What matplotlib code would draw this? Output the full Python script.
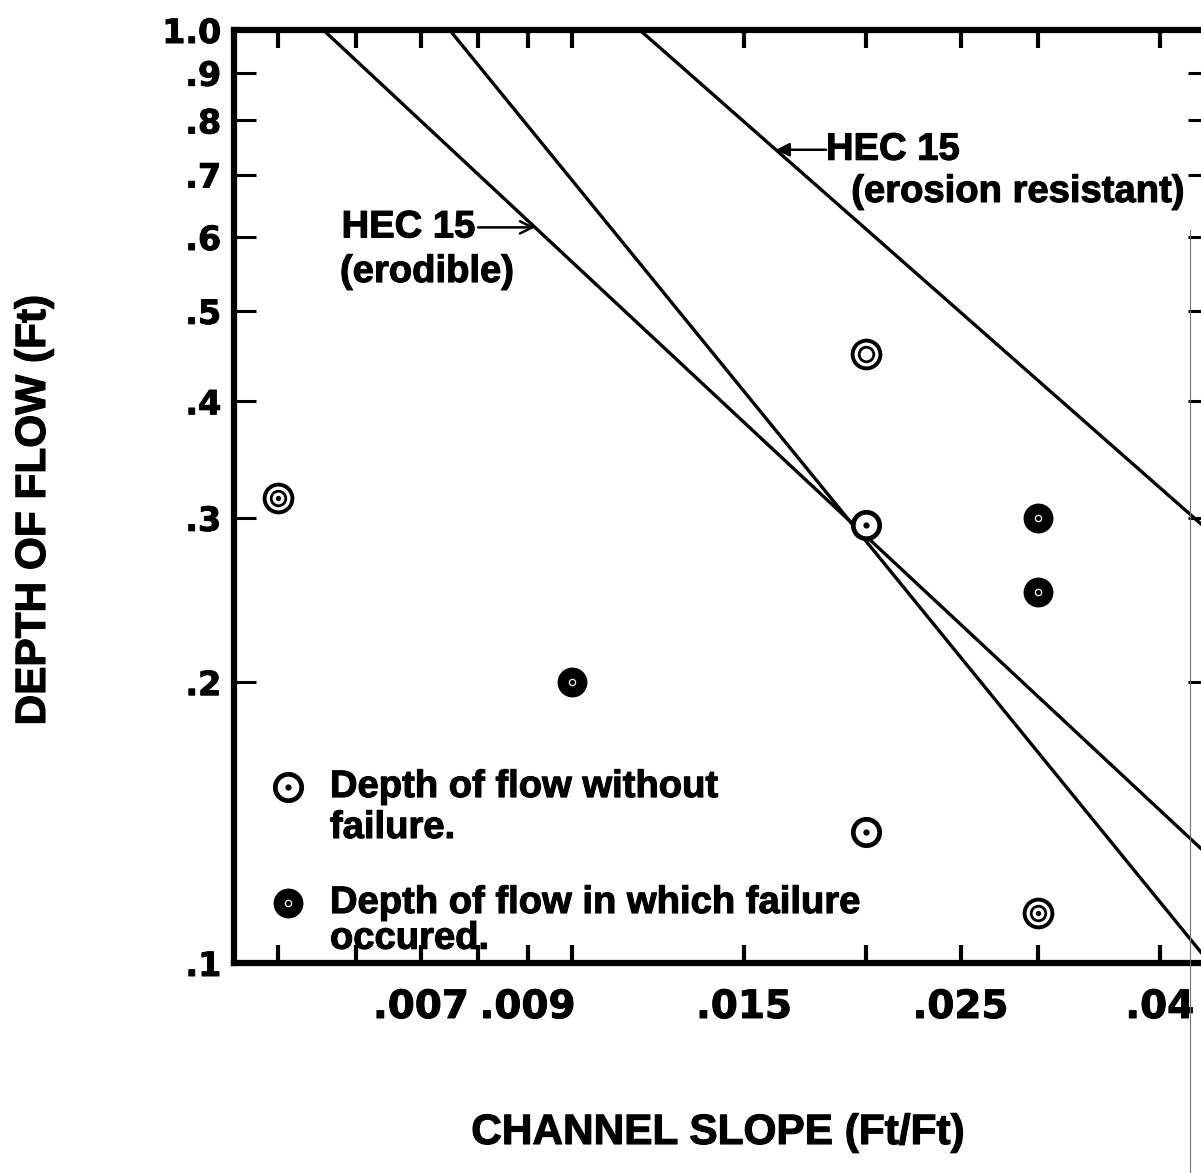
import numpy as np
import matplotlib
matplotlib.use("Agg")
import matplotlib.pyplot as plt
import matplotlib.patheffects as pe
from matplotlib.font_manager import FontProperties
from matplotlib.lines import Line2D

# ---- data -------------------------------------------------------------
# Test runs: channel slope (ft/ft) and depth of flow (ft)
no_failure_slope = [0.005, 0.02, 0.02, 0.02, 0.03]
no_failure_depth = [0.315, 0.45, 0.295, 0.138, 0.113]
no_failure_marks = ["double-dot", "double", "dot", "dot", "double-dot"]

failure_slope = [0.01, 0.03, 0.03]
failure_depth = [0.20, 0.30, 0.25]

# Design lines (end points)
hec_erodible_slope = [0.00556, 0.045]
hec_erodible_depth = [1.0, 0.130]

boundary_slope = [0.00749, 0.045]
boundary_depth = [1.0, 0.10]

hec_resistant_slope = [0.01173, 0.045]
hec_resistant_depth = [1.0, 0.29]

# Axis ticks
x_ticks = [0.005, 0.006, 0.007, 0.008, 0.009, 0.01, 0.015, 0.02, 0.025, 0.03, 0.04]
x_tick_labels = ["", "", ".007", "", ".009", "", ".015", "", ".025", "", ".04"]
y_ticks = [0.1, 0.2, 0.3, 0.4, 0.5, 0.6, 0.7, 0.8, 0.9, 1.0]
y_tick_labels = [".1", ".2", ".3", ".4", ".5", ".6", ".7", ".8", ".9", "1.0"]

# ---- figure -----------------------------------------------------------
W, H = 1201, 1173
fig = plt.figure(figsize=(W / 100, H / 100), dpi=100)
ax = fig.add_axes([233.7 / W, 210 / H, 976 / W, 933 / H])
ax.set_xscale("log")
ax.set_yscale("log")
ax.set_xlim(0.0045, 0.045)
ax.set_ylim(0.1, 1.0)

for s in ax.spines.values():
    s.set_linewidth(4.5)

ax.set_xticks(x_ticks)
ax.set_xticklabels(x_tick_labels)
ax.set_yticks(y_ticks)
ax.set_yticklabels(y_tick_labels)
ax.minorticks_off()

heavy_tick = [pe.withStroke(linewidth=0.7, foreground="black")]
heavy_text = [pe.withStroke(linewidth=0.8, foreground="black")]

for lab in ax.get_xticklabels():
    lab.set_fontproperties(FontProperties(family="DejaVu Sans", weight="bold", size=28))
    lab.set_path_effects(heavy_tick)
for lab in ax.get_yticklabels():
    lab.set_fontproperties(FontProperties(family="DejaVu Sans", weight="bold", size=24))
    lab.set_path_effects(heavy_tick)

ax.tick_params(axis="x", which="major", direction="in", top=True, bottom=True,
               length=13, width=3, pad=18)
ax.tick_params(axis="y", which="major", direction="in", left=True, right=True,
               length=16, width=2.2, pad=9)

# ---- design lines -----------------------------------------------------
line_kw = dict(color="black", lw=2.4, solid_capstyle="butt")
ax.plot(hec_erodible_slope, hec_erodible_depth, **line_kw)
ax.plot(boundary_slope, boundary_depth, **line_kw)
ax.plot(hec_resistant_slope, hec_resistant_depth, **line_kw)


def on_line(xs, ys, x):
    return 10 ** np.interp(np.log10(x), np.log10(xs), np.log10(ys))


# ---- markers ----------------------------------------------------------
def ring_dot(x, y, transform=None):
    kw = dict(clip_on=False, zorder=5, linestyle="none")
    if transform is not None:
        kw["transform"] = transform
    ax.plot([x], [y], marker="o", ms=19, mfc="white", mec="black", mew=3.4, **kw)
    ax.plot([x], [y], marker="o", ms=4.5, mfc="black", mec="black", mew=0, **kw)


def double_ring(x, y, dot=True):
    kw = dict(clip_on=False, zorder=5, linestyle="none")
    ax.plot([x], [y], marker="o", ms=20, mfc="white", mec="black", mew=2.8, **kw)
    ax.plot([x], [y], marker="o", ms=10.5, mfc="white", mec="black", mew=2.0, **kw)
    if dot:
        ax.plot([x], [y], marker="o", ms=3.8, mfc="black", mec="black", mew=0, **kw)


def filled(x, y, transform=None):
    kw = dict(clip_on=False, zorder=5, linestyle="none")
    if transform is not None:
        kw["transform"] = transform
    ax.plot([x], [y], marker="o", ms=20, mfc="black", mec="black", mew=1.5, **kw)
    ax.plot([x], [y], marker="o", ms=4.5, mfc="none", mec="white", mew=0.9, **kw)


for x, y, m in zip(no_failure_slope, no_failure_depth, no_failure_marks):
    if m == "dot":
        ring_dot(x, y)
    else:
        double_ring(x, y, dot=(m == "double-dot"))

for x, y in zip(failure_slope, failure_depth):
    filled(x, y)

# ---- annotations ------------------------------------------------------
txt_font = dict(family="Liberation Sans", weight="bold", size=27.5,
                path_effects=heavy_text)

# HEC 15 (erodible)
tip_x, tail_x = 0.00916, 0.00801
yy = on_line(hec_erodible_slope, hec_erodible_depth, tip_x)
ax.annotate("", xy=(tip_x, yy), xytext=(tail_x, yy),
            arrowprops=dict(arrowstyle="->", lw=1.8, color="black",
                            shrinkA=0, shrinkB=0, mutation_scale=22))
ax.annotate("HEC 15", xy=(tail_x, yy), xytext=(-2, 0), textcoords="offset points",
            ha="right", va="center", **txt_font)
ax.text(0.1089, 0.7406, "(erodible)", transform=ax.transAxes,
        ha="left", va="center", **txt_font)

# HEC 15 (erosion resistant)
tip_x, tail_x = 0.01617, 0.0182
yy = on_line(hec_resistant_slope, hec_resistant_depth, tip_x)
ax.annotate("", xy=(tip_x, yy), xytext=(tail_x, yy),
            arrowprops=dict(arrowstyle="-|>", lw=1.8, color="black",
                            shrinkA=0, shrinkB=0, mutation_scale=20))
ax.annotate("HEC 15", xy=(tail_x, yy), xytext=(0, 0), textcoords="offset points",
            ha="left", va="center", **txt_font)
ax.text(0.9747, 0.8264, "(erosion resistant)", transform=ax.transAxes,
        ha="right", va="center", **txt_font)

# ---- key --------------------------------------------------------------
ring_dot(0.0556, 0.1886, transform=ax.transAxes)
filled(0.0556, 0.0643, transform=ax.transAxes)
ax.text(0.0986, 0.1886, "Depth of flow without", transform=ax.transAxes,
        ha="left", va="center", **txt_font)
ax.text(0.0986, 0.1447, "failure.", transform=ax.transAxes,
        ha="left", va="center", **txt_font)
ax.text(0.0986, 0.0643, "Depth of flow in which failure", transform=ax.transAxes,
        ha="left", va="center", **txt_font)
ax.text(0.0986, 0.0260, "occured.", transform=ax.transAxes,
        ha="left", va="center", **txt_font)

# ---- axis titles ------------------------------------------------------
lab_font = dict(family="Liberation Sans", weight="bold", size=30.5,
                path_effects=heavy_text)
fig.text(718 / W, 1 - 1133 / H, "CHANNEL SLOPE (Ft/Ft)", ha="center", va="center", **lab_font)
fig.text(34 / W, 1 - 510 / H, "DEPTH OF FLOW (Ft)", rotation=90,
         ha="center", va="center", **lab_font)

# faint fold line on the right edge of the sheet
fig.add_artist(Line2D([1190 / W, 1190 / W], [0, 1 - 230 / H], color="0.45", lw=0.8))

fig.savefig("out.png", dpi=100, facecolor="white")
